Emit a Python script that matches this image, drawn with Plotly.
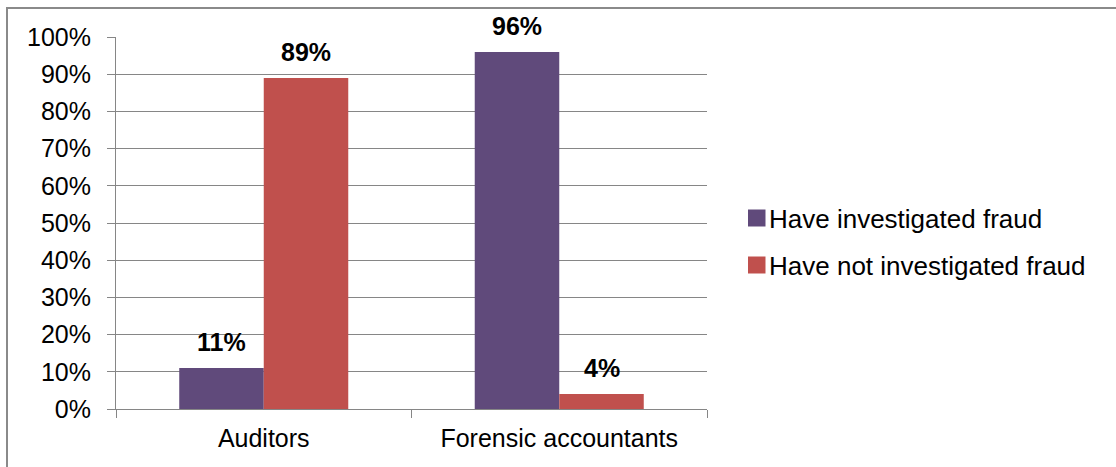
import plotly.graph_objects as go

# Chart data
categories = ["Auditors", "Forensic accountants"]
series_names = ["Have investigated fraud", "Have not investigated fraud"]
investigated = [0.11, 0.96]
not_investigated = [0.89, 0.04]
series_values = [investigated, not_investigated]
series_colors = ["#604A7B", "#C0504D"]

tick_vals = [i / 10 for i in range(11)]
tick_text = [f"{i * 10}%" for i in range(11)]

# Layout geometry (pixels)
W, H = 1116, 467
M_L, M_R, M_T, M_B = 116, 409, 37, 58
PLOT_W = W - M_L - M_R
PLOT_H = H - M_T - M_B
BARGAP = 0.428

GRID = "#868686"
FONT = "Liberation Sans, Arial, sans-serif"

fig = go.Figure()
for name, vals, color in zip(series_names, series_values, series_colors):
    fig.add_trace(go.Bar(
        x=categories, y=vals, name=name,
        marker=dict(color=color, line=dict(width=0)),
        showlegend=False,
    ))

# Value labels above each bar
cat_px = PLOT_W / len(categories)
bar_px = cat_px * (1 - BARGAP) / len(series_values)
annotations = []
for s, vals in enumerate(series_values):
    offset = (s - (len(series_values) - 1) / 2) * bar_px
    for cat, v in zip(categories, vals):
        annotations.append(dict(
            x=cat, y=v, xref="x", yref="y",
            text=f"<b>{round(v * 100)}%</b>",
            showarrow=False, xshift=offset, yshift=10,
            xanchor="center", yanchor="bottom",
            font=dict(family=FONT, size=25, color="#000000"),
        ))

# Legend: colour squares with series names to the right of the plot
shapes = []
def px_x(px):
    return (px - M_L) / PLOT_W
def px_y(py):
    return (M_T + PLOT_H - py) / PLOT_H

legend_rows = [218, 265]
for name, color, cy in zip(series_names, series_colors, legend_rows):
    shapes.append(dict(
        type="rect", xref="paper", yref="paper",
        x0=px_x(748), x1=px_x(765.5), y0=px_y(cy + 8.5), y1=px_y(cy - 8.5),
        fillcolor=color, line=dict(width=0),
    ))
    annotations.append(dict(
        x=px_x(767), y=px_y(cy + 1), xref="paper", yref="paper",
        text=name, showarrow=False, xanchor="left", yanchor="middle",
        font=dict(family=FONT, size=26, color="#000000"),
    ))

# Chart frame
shapes.append(dict(
    type="rect", xref="paper", yref="paper",
    x0=px_x(7), x1=px_x(W + 20), y0=px_y(H + 20), y1=px_y(8),
    line=dict(color="#8a8a8a", width=2), fillcolor="rgba(0,0,0,0)", layer="below",
))

fig.update_layout(
    width=W, height=H,
    margin=dict(l=M_L, r=M_R, t=M_T, b=M_B, pad=0),
    paper_bgcolor="white", plot_bgcolor="white",
    barmode="group", bargap=BARGAP, bargroupgap=0,
    font=dict(family=FONT, size=25, color="#000000"),
    annotations=annotations, shapes=shapes,
    showlegend=False,
)
fig.update_yaxes(
    range=[0, 1], tickvals=tick_vals, ticktext=tick_text,
    showgrid=True, gridcolor=GRID, gridwidth=1,
    showline=True, linecolor=GRID, linewidth=1,
    ticks="outside", ticklen=8, tickcolor=GRID, tickwidth=1,
    ticklabelstandoff=11, zeroline=False,
    tickfont=dict(family=FONT, size=25, color="#000000"),
)
fig.update_xaxes(
    showgrid=False, showline=True, linecolor=GRID, linewidth=1,
    ticks="outside", ticklen=8, tickcolor=GRID, tickwidth=1,
    tickson="boundaries", ticklabelstandoff=7,
    tickfont=dict(family=FONT, size=25, color="#000000"),
)

fig.write_html("out.html")
